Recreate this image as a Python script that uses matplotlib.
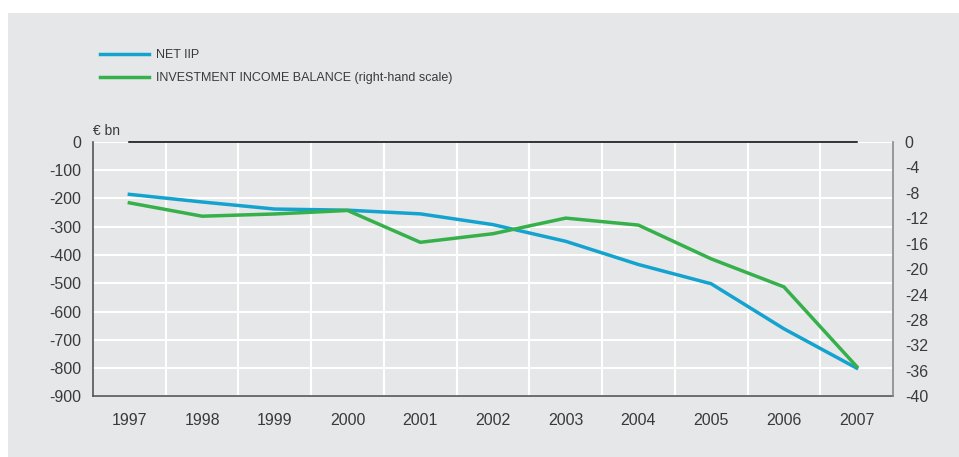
import matplotlib.pyplot as plt
from matplotlib.patches import Rectangle
from matplotlib.ticker import FixedLocator

plt.rcParams['font.family'] = ['Liberation Sans', 'DejaVu Sans']
plt.rcParams['axes.unicode_minus'] = False

years = ['1997', '1998', '1999', '2000', '2001', '2002',
         '2003', '2004', '2005', '2006', '2007']
net_iip = [-186, -213, -238, -242, -255, -293, -352, -434, -502, -661, -800]
inv_income = [-9.6, -11.7, -11.35, -10.8, -15.8, -14.45, -12.0, -13.1, -18.4, -22.8, -35.3]

left_ticks = [0, -100, -200, -300, -400, -500, -600, -700, -800, -900]
right_ticks = [0, -4, -8, -12, -16, -20, -24, -28, -32, -36, -40]

bg = '#e6e7e8'
txt = '#3a3a3a'
blue = '#14a3cf'
green = '#36b04a'

W, H = 959, 457
fig = plt.figure(figsize=(W / 100, H / 100), dpi=100)
fig.patch.set_facecolor('white')
fig.patches.append(Rectangle((8 / W, 0), 1, 1 - 13 / H, transform=fig.transFigure,
                             facecolor=bg, edgecolor='none', zorder=-10))

ax = fig.add_axes([93 / W, (H - 396.4) / H, 800 / W, 254.7 / H])
ax.set_facecolor(bg)
x = list(range(len(years)))

ax.set_xlim(-0.5, len(years) - 0.5)
ax.set_ylim(-900, 0)
ax.set_yticks(left_ticks)
ax.set_xticks(x)
ax.set_xticklabels(years)
ax.xaxis.set_minor_locator(FixedLocator([i + 0.5 for i in x[:-1]]))
ax.grid(axis='y', which='major', color='white', lw=1.5)
ax.grid(axis='x', which='minor', color='white', lw=1.5)
ax.set_axisbelow(True)
ax.tick_params(axis='both', which='both', length=0, labelsize=11.5, colors=txt)
ax.tick_params(axis='y', pad=8.5)
ax.tick_params(axis='x', pad=12)
for s in ['top', 'right']:
    ax.spines[s].set_visible(False)
ax.spines['left'].set_color('#555555')
ax.spines['bottom'].set_color('#555555')
ax.spines['left'].set_linewidth(1.2)
ax.spines['bottom'].set_linewidth(1.2)

# zero line across the data range
ax.plot([x[0], x[-1]], [0, 0], color='black', lw=1.1, zorder=3, clip_on=False)

l1, = ax.plot(x, net_iip, color=blue, lw=2.5, zorder=4)

ax2 = ax.twinx()
ax2.set_ylim(-40, 0)
ax2.set_yticks(right_ticks)
ax2.tick_params(axis='y', length=0, labelsize=11.5, colors=txt, pad=8.5)
for s in ['top', 'left', 'bottom']:
    ax2.spines[s].set_visible(False)
ax2.spines['right'].set_color('#8a8a8a')
ax2.spines['right'].set_linewidth(1.2)
l2, = ax2.plot(x, inv_income, color=green, lw=2.5, zorder=4)

ax.text(0.0, 1.015, '€ bn', transform=ax.transAxes, fontsize=10, color=txt,
        ha='left', va='bottom')

fig.legend([l1, l2], ['NET IIP', 'INVESTMENT INCOME BALANCE (right-hand scale)'],
           loc='upper left', bbox_to_anchor=(100 / W, 1 - 49 / H), frameon=False,
           fontsize=9, labelcolor=txt, handlelength=3.9, handletextpad=0.6,
           labelspacing=0.9, borderpad=0, borderaxespad=0)

fig.savefig('out.png', dpi=100, facecolor='white')
